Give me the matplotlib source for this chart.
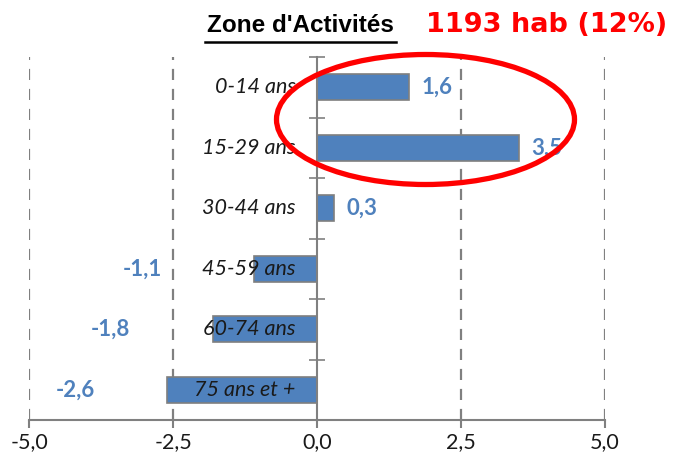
import matplotlib
matplotlib.use("Agg")
import matplotlib.pyplot as plt
from matplotlib.patches import Ellipse
from matplotlib.lines import Line2D

categories = ["0-14 ans", "15-29 ans", "30-44 ans", "45-59 ans", "60-74 ans", "75 ans et +"]
values = [1.6, 3.5, 0.3, -1.1, -1.8, -2.6]
value_labels = ["1,6", "3,5", "0,3", "-1,1", "-1,8", "-2,6"]
xticks = [-5.0, -2.5, 0.0, 2.5, 5.0]
xtick_labels = ["-5,0", "-2,5", "0,0", "2,5", "5,0"]
title = "Zone d'Activités"
subtitle = "1193 hab (12%)"

BLUE = "#4F81BD"
GREY = "#808080"
FONT = "Lato"

fig = plt.figure(figsize=(6.77, 4.63), dpi=100)
W, H = 677, 463
ax = fig.add_axes([29 / W, 1 - 420 / H, (605 - 29) / W, (420 - 57) / H])

n = len(categories)
ypos = list(range(n))
ax.barh(ypos, values, height=0.43, color=BLUE, edgecolor="#7F7F7F", linewidth=1.2, zorder=3)
ax.set_ylim(n - 0.5, -0.5)
ax.set_xlim(-5, 5)

# category labels to the left of zero axis
for y, c in zip(ypos, categories):
    ax.text(-0.37, y, c, ha="right", va="center", fontsize=15.5, style="italic",
            family=FONT, color="#1a1a1a", zorder=4)

# value labels
for y, v, lab in zip(ypos, values, value_labels):
    if v >= 0:
        ax.annotate(lab, (v, y), xytext=(9, 0), textcoords="offset points",
                    ha="left", va="center", fontsize=16, fontweight="bold",
                    family=FONT, color=BLUE, zorder=4)
    else:
        ax.annotate(lab, (v * 0.77 - 1.85, y), ha="right", va="center", fontsize=16,
                    fontweight="bold", family=FONT, color=BLUE, zorder=4)

# axes styling
for s in ["top", "right"]:
    ax.spines[s].set_visible(False)
ax.spines["left"].set_position(("data", 0))
ax.spines["left"].set_color(GREY)
ax.spines["left"].set_linewidth(1.5)
ax.spines["left"].set_zorder(5)
ax.spines["bottom"].set_color(GREY)
ax.spines["bottom"].set_linewidth(1.5)

ax.set_yticks([i - 0.5 for i in range(n + 1)])
ax.set_yticklabels([])
ax.tick_params(axis="y", direction="inout", length=12, width=1.2, color=GREY)

ax.set_xticks(xticks)
ax.set_xticklabels(xtick_labels, fontsize=15.5, family=FONT, color="#1a1a1a")
ax.tick_params(axis="x", direction="out", length=6, width=1.5, color=GREY, pad=3)

for x in xticks:
    if x != 0:
        ax.axvline(x, color=GREY, linewidth=1.6, linestyle=(0, (5, 4)), zorder=1)

# title
fig.text(300 / W, 1 - 26 / H, title, ha="center", va="center", fontsize=17.5,
         fontweight="bold", family="Liberation Sans", color="black")
fig.add_artist(Line2D([205 / W, 396 / W], [1 - 42 / H, 1 - 42 / H], color="black",
                      linewidth=1.8, transform=fig.transFigure))
fig.text(547 / W, 1 - 25 / H, subtitle, ha="center", va="center", fontsize=19.5,
         fontweight="bold", family="DejaVu Sans", color="#FF0000")

# red ellipse
fig.add_artist(Ellipse((425.5 / W, 1 - 119.5 / H), 298 / W, 130 / H, fill=False,
                       edgecolor="#FF0000", linewidth=3.8, transform=fig.transFigure,
                       zorder=10))

fig.savefig("out.png", dpi=100)
